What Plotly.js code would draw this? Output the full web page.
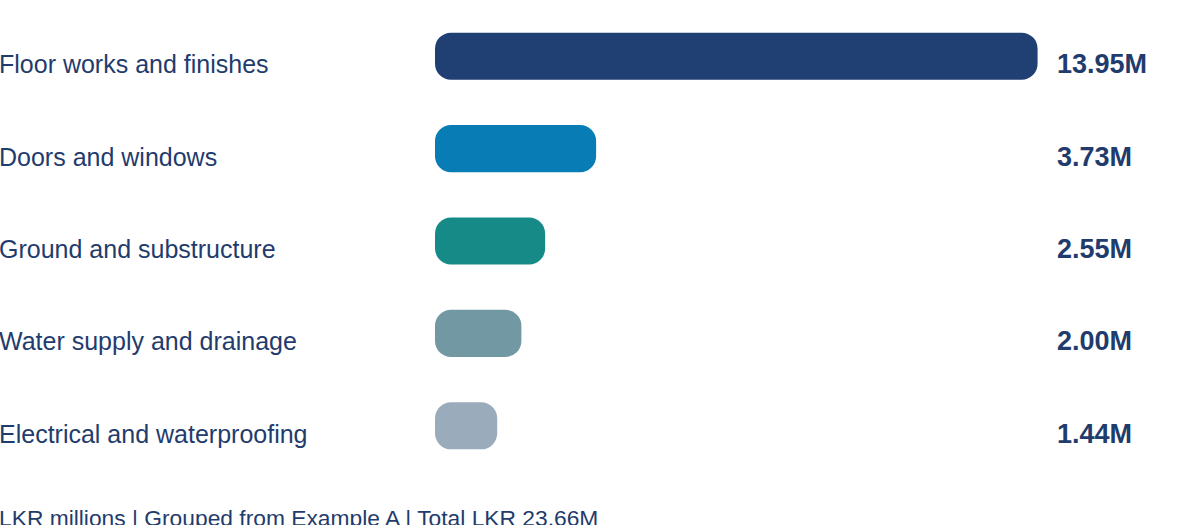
<!DOCTYPE html>
<html>
<head>
<meta charset="utf-8">
<script src="https://cdn.plot.ly/plotly-3.0.1.min.js"></script>
<style>
  html, body { margin: 0; padding: 0; background: #fff; }
  #plot { width: 1200px; height: 525px; }
</style>
</head>
<body>
<div id="plot"></div>
<script>
var categories = ['Floor works and finishes', 'Doors and windows', 'Ground and substructure',
                  'Water supply and drainage', 'Electrical and waterproofing']
var values = [13.95, 3.73, 2.55, 2.00, 1.44]
var valueLabels = ['13.95M', '3.73M', '2.55M', '2.00M', '1.44M']
var barColors = ['#203f73', '#087db5', '#168a87', '#7298a4', '#9aabbb']
var footer = 'LKR millions | Grouped from Example A | Total LKR 23.66M'

var textColor = '#1f3c6d'
var font = '"Liberation Sans", Arial, sans-serif'

// an explicit base makes plotly round both ends of the bar
var bars = {
  type: 'bar',
  orientation: 'h',
  y: categories,
  x: values,
  base: 0,
  width: 0.51,
  marker: { color: barColors, cornerradius: 16, line: { width: 0 } },
  hoverinfo: 'skip'
}

var annotations = []
categories.forEach(function (c, i) {
  annotations.push({
    xref: 'paper', yref: 'y', x: -0.5686, y: c, xshift: -3, yshift: -8,
    xanchor: 'left', yanchor: 'middle', showarrow: false,
    text: c, font: { family: font, size: 25, color: textColor }
  })
  annotations.push({
    xref: 'paper', yref: 'y', x: 0.8144, y: c, xshift: -3, yshift: -8,
    xanchor: 'left', yanchor: 'middle', showarrow: false,
    text: '<b>' + valueLabels[i] + '</b>', font: { family: font, size: 27, color: textColor }
  })
})
annotations.push({
  xref: 'paper', yref: 'paper', x: -0.5686, y: -0.07, xshift: -3, yshift: 1,
  xanchor: 'left', yanchor: 'top', showarrow: false,
  text: footer, font: { family: font, size: 22.8, color: textColor }
})

var layout = {
  width: 1200, height: 525,
  margin: { l: 435, r: 0, t: 10, b: 53 },
  paper_bgcolor: '#fff', plot_bgcolor: '#fff',
  showlegend: false,
  xaxis: { range: [0, 17.71], visible: false, fixedrange: true },
  yaxis: { autorange: 'reversed', visible: false, fixedrange: true },
  annotations: annotations
}

Plotly.newPlot('plot', [bars], layout, { displayModeBar: false, staticPlot: true })
</script>
</body>
</html>
